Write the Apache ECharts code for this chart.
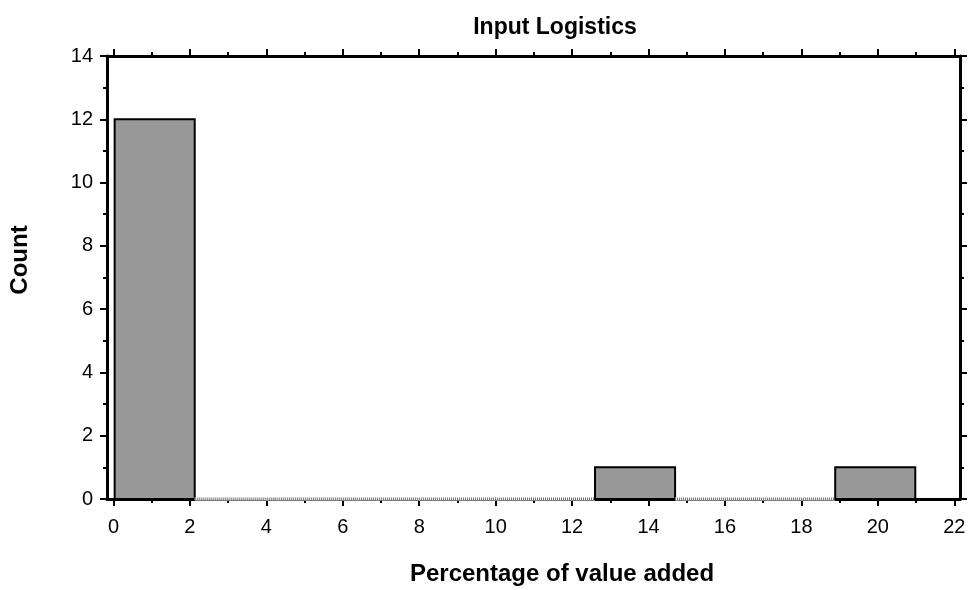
<!DOCTYPE html>
<html>
<head>
<meta charset="utf-8">
<script src="https://cdn.jsdelivr.net/npm/echarts@6/dist/echarts.min.js"></script>
<style>
  html, body { margin: 0; padding: 0; background: #fff; }
  #chart { width: 970px; height: 590px; }
</style>
</head>
<body>
<div id="chart"></div>
<script>
// Histogram bins: first edge, width, and count per bin
const binStart = 0.03;
const binWidth = 2.095;
const counts = [12, 0, 0, 0, 0, 0, 1, 0, 0, 1];

// Axis ticks
const xMajorTicks = [0, 2, 4, 6, 8, 10, 12, 14, 16, 18, 20, 22];
const xMinorTicks = [1, 3, 5, 7, 9, 11, 13, 15, 17, 19, 21];
const xRange = [-0.17, 22.15];
const yRange = [0, 14];
const yStep = 2;

const titleText = 'Input Logistics';
const xTitle = 'Percentage of value added';
const yTitle = 'Count';

const bins = counts.map((c, i) => [binStart + i * binWidth, binStart + (i + 1) * binWidth, c]);

const FONT = 'Liberation Sans, Arial, sans-serif';
const black = '#000';

function renderBin(params, api) {
  const x0 = api.value(0), x1 = api.value(1), c = api.value(2);
  const p0 = api.coord([x0, 0]);
  const p1 = api.coord([x1, c]);
  const w = p1[0] - p0[0];
  if (c === 0) {
    // empty bin: thin hatched strip along the baseline
    return {
      type: 'group',
      children: [
        { type: 'rect', shape: { x: p0[0], y: p0[1] - 1.5, width: w, height: 3 }, style: { fill: '#fff' } },
        { type: 'line', shape: { x1: p0[0], y1: p0[1], x2: p1[0], y2: p0[1] },
          style: { stroke: '#707070', lineWidth: 3, lineDash: [1, 1] } }
      ]
    };
  }
  return {
    type: 'rect',
    shape: { x: p0[0], y: p1[1], width: w, height: p0[1] - p1[1] },
    style: { fill: '#999999', stroke: black, lineWidth: 2 }
  };
}

function xAxisDef(position, ticks, len, withLine, withLabels) {
  return {
    type: 'value', position: position, min: xRange[0], max: xRange[1],
    axisLine: { show: withLine, onZero: false, lineStyle: { color: black, width: 3 } },
    axisTick: { show: true, customValues: ticks, length: len, inside: false, lineStyle: { color: black, width: 2 } },
    axisLabel: withLabels
      ? { show: true, customValues: ticks, color: black, fontFamily: FONT, fontSize: 20, margin: 18 }
      : { show: false },
    splitLine: { show: false }
  };
}

function yAxisDef(position, withLabels) {
  return {
    type: 'value', position: position, min: yRange[0], max: yRange[1], interval: yStep,
    axisLine: { show: true, onZero: false, lineStyle: { color: black, width: 3 } },
    axisTick: { show: true, length: 7, lineStyle: { color: black, width: 2 } },
    minorTick: { show: true, splitNumber: 2, length: 4, lineStyle: { color: black, width: 2 } },
    axisLabel: withLabels
      ? { show: true, color: black, fontFamily: FONT, fontSize: 20, margin: 14 }
      : { show: false },
    splitLine: { show: false },
    minorSplitLine: { show: false }
  };
}

const chart = echarts.init(document.getElementById('chart'), null, { renderer: 'canvas' });
chart.setOption({
  animation: false,
  backgroundColor: '#fff',
  title: [
    { text: titleText, left: 550, top: 11, textAlign: 'center',
      textStyle: { color: black, fontFamily: FONT, fontSize: 23, fontWeight: 'bold' } },
    { text: xTitle, left: 557, top: 557, textAlign: 'center',
      textStyle: { color: black, fontFamily: FONT, fontSize: 24, fontWeight: 'bold' } }
  ],
  graphic: [{
    type: 'text', x: 20, y: 260, rotation: Math.PI / 2,
    style: { text: yTitle, fill: black, font: 'bold 24px ' + FONT, textAlign: 'center', textVerticalAlign: 'middle' }
  }],
  grid: { left: 107, right: 10, top: 56, bottom: 91, containLabel: false },
  xAxis: [
    xAxisDef('bottom', xMajorTicks, 7, true, true),
    xAxisDef('bottom', xMinorTicks, 4, false, false),
    xAxisDef('top', xMajorTicks, 7, true, false),
    xAxisDef('top', xMinorTicks, 4, false, false)
  ],
  yAxis: [yAxisDef('left', true), yAxisDef('right', false)],
  series: [{
    type: 'custom',
    xAxisIndex: 0,
    yAxisIndex: 0,
    renderItem: renderBin,
    encode: { x: [0, 1], y: 2 },
    data: bins
  }]
});
</script>
</body>
</html>
